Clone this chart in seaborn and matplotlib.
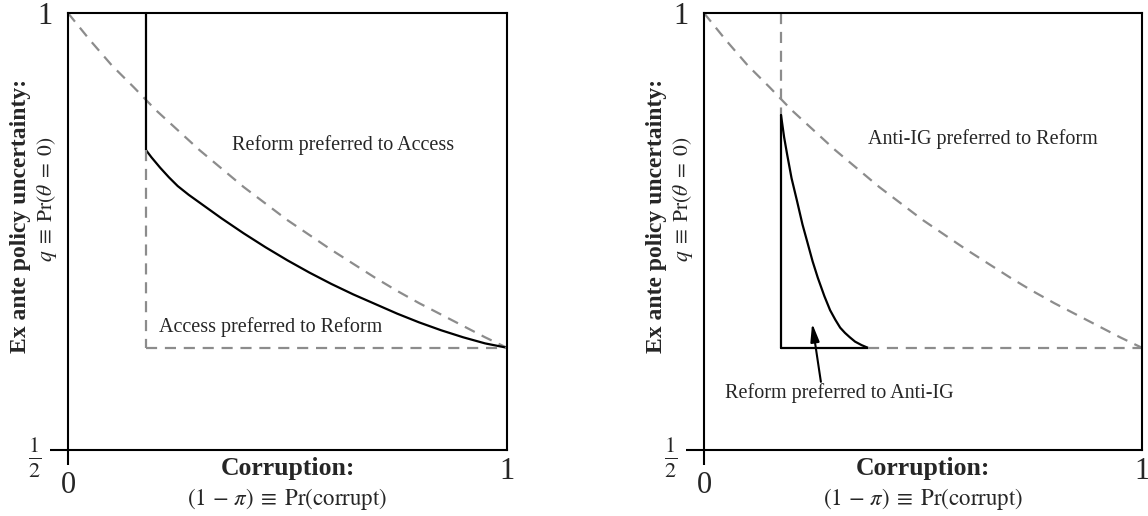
import numpy as np
import pandas as pd
import matplotlib.pyplot as plt
import seaborn as sns

# ---- values ----
# grey dashed indifference curve (same in both panels)
dash_x = [0.0, 0.05, 0.1, 0.15, 0.2, 0.25, 0.3, 0.35, 0.4, 0.45, 0.5,
          0.55, 0.6, 0.65, 0.7, 0.75, 0.8, 0.85, 0.9, 0.95, 1.0]
dash_q = [1.0, 0.969, 0.940, 0.915, 0.889, 0.866, 0.843, 0.822, 0.801, 0.782, 0.763,
          0.746, 0.729, 0.713, 0.697, 0.682, 0.668, 0.655, 0.642, 0.629, 0.617]

q_floor = 0.617

# left panel: Reform vs Access boundary
left_cut = 0.178
left_kink = 0.843
left_x = [0.178, 0.19, 0.21, 0.23, 0.25, 0.275, 0.3, 0.35, 0.4, 0.45, 0.5,
          0.55, 0.6, 0.65, 0.7, 0.75, 0.8, 0.85, 0.9, 0.95, 1.0]
left_q = [0.843, 0.835, 0.823, 0.812, 0.802, 0.792, 0.783, 0.765, 0.748, 0.732, 0.717,
          0.703, 0.690, 0.678, 0.667, 0.656, 0.646, 0.637, 0.629, 0.622, 0.617]

# right panel: Reform vs Anti-IG region
right_cut = 0.176
right_top = 0.883
right_end = 0.374
right_x = [0.176, 0.183, 0.19, 0.2, 0.212, 0.225, 0.236, 0.248, 0.26, 0.275,
           0.288, 0.3, 0.311, 0.322, 0.333, 0.345, 0.36, 0.374]
right_q = [0.883, 0.858, 0.838, 0.811, 0.786, 0.758, 0.738, 0.716, 0.697, 0.676,
           0.660, 0.649, 0.640, 0.634, 0.629, 0.624, 0.620, 0.617]

sns.set_theme(style="white")
plt.rcParams['font.family'] = ['Liberation Serif', 'DejaVu Serif']
plt.rcParams['mathtext.fontset'] = 'stix'

fig = plt.figure(figsize=(11.48, 5.16), dpi=100)
ax_l = fig.add_axes([0.0592, 0.1279, 0.3824, 0.8469])
ax_r = fig.add_axes([0.6132, 0.1279, 0.3815, 0.8469])

grey = '#8c8c8c'
dash = (0, (5, 3.5))


def line(ax, x, y, dashed=False):
    sns.lineplot(x=x, y=y, ax=ax, sort=False, estimator=None,
                 color=grey if dashed else 'black', lw=1.6,
                 linestyle=dash if dashed else '-', clip_on=False)


def frame(ax):
    ax.set_xlim(0, 1)
    ax.set_ylim(0.5, 1)
    for s in ax.spines.values():
        s.set_visible(True)
        s.set_color('black')
        s.set_linewidth(1.5)
    ax.set_xticks([0], labels=['0'])
    ax.set_xticks([1], labels=['1'], minor=True)
    ax.set_yticks([0.5], labels=[r'$\frac{1}{2}$'])
    ax.set_yticks([1], labels=['1'], minor=True)
    ax.tick_params(axis='x', which='major', direction='out', length=10.8, width=1.5,
                   color='black', bottom=True, labelsize=22, pad=4)
    ax.tick_params(axis='x', which='minor', length=0, labelsize=22, pad=5)
    ax.tick_params(axis='y', which='major', direction='out', length=13, width=1.5,
                   color='black', left=True, labelsize=23, pad=6)
    ax.tick_params(axis='y', which='minor', length=0, labelsize=22, pad=11)
    ax.text(0.5, -0.043, 'Corruption:', transform=ax.transAxes, ha='center', va='center',
            fontsize=18.5, fontweight='bold')
    ax.text(0.5, -0.112, r'$(1\,-\,\pi)\;\equiv\;\mathrm{Pr(corrupt)}$', transform=ax.transAxes,
            ha='center', va='center', fontsize=16.5)
    ax.text(-0.109, 0.535, 'Ex ante policy uncertainty:', transform=ax.transAxes,
            ha='center', va='center', rotation=90, fontsize=17, fontweight='bold')
    ax.text(-0.048, 0.574, r'$q\;\equiv\;\mathrm{Pr}(\theta\;=\;0)$', transform=ax.transAxes,
            ha='center', va='center', rotation=90, fontsize=15.5)


# ---- left panel ----
line(ax_l, dash_x, dash_q, dashed=True)
line(ax_l, [left_cut, left_cut], [1.0, left_kink])
line(ax_l, left_x, left_q)
line(ax_l, [left_cut, left_cut], [left_kink, q_floor], dashed=True)
line(ax_l, [left_cut, 1.0], [q_floor, q_floor], dashed=True)
ax_l.text(0.626, 0.849, 'Reform preferred to Access', ha='center', va='center', fontsize=14.5)
ax_l.text(0.462, 0.641, 'Access preferred to Reform', ha='center', va='center', fontsize=14.5)
frame(ax_l)

# ---- right panel ----
line(ax_r, dash_x, dash_q, dashed=True)
line(ax_r, [right_cut, right_cut], [1.0, right_top], dashed=True)
line(ax_r, [right_cut, right_cut], [right_top, q_floor])
line(ax_r, [right_cut, right_end], [q_floor, q_floor])
line(ax_r, right_x, right_q)
line(ax_r, [right_end, 1.0], [q_floor, q_floor], dashed=True)
ax_r.text(0.637, 0.856, 'Anti-IG preferred to Reform', ha='center', va='center', fontsize=14.5)
ax_r.text(0.31, 0.565, 'Reform preferred to Anti-IG', ha='center', va='center', fontsize=14.5)
ax_r.annotate('', xy=(0.247, 0.645), xytext=(0.267, 0.578),
              arrowprops=dict(arrowstyle='-|>,head_length=0.9,head_width=0.22',
                              color='black', lw=1.5, shrinkA=0, shrinkB=0))
frame(ax_r)

for ax in (ax_l, ax_r):
    if ax.get_legend():
        ax.get_legend().remove()

fig.savefig('out.png', dpi=100)
